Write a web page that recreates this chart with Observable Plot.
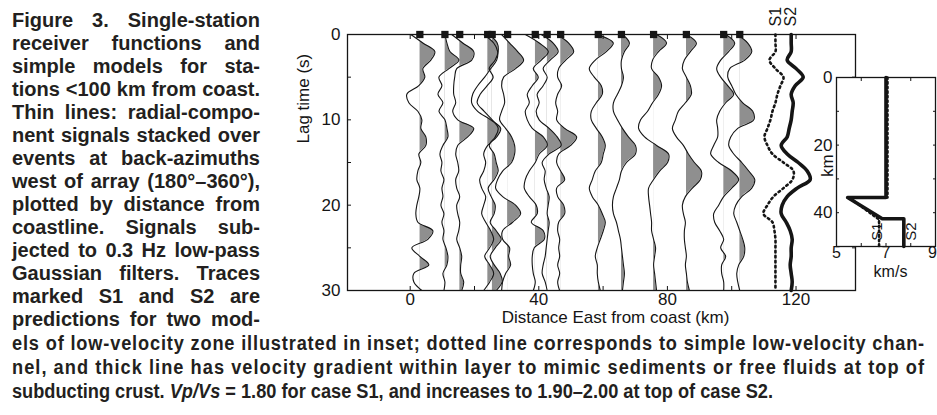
<!DOCTYPE html>
<html><head><meta charset="utf-8">
<script src="https://cdn.jsdelivr.net/npm/d3@7"></script>
<script src="https://cdn.jsdelivr.net/npm/@observablehq/plot@0.6"></script>
<style>
body{margin:0;background:#fff;}
#page{position:relative;width:937px;height:415px;overflow:hidden;font-family:"Liberation Sans",Arial,Helvetica,sans-serif;}
.cap{position:absolute;white-space:nowrap;font-weight:bold;color:#231f20;line-height:24px;}
.cap span{display:inline-block;transform-origin:0 50%;}
#main{position:absolute;left:290px;top:0;}
#inset{position:absolute;left:790px;top:60px;}
</style></head>
<body><div id="page"><div id="main"></div><div id="inset"></div></div>
<script>
// ---------------- caption text ----------------
const captionLeft = [
  "Figure 3. Single-station",
  "receiver functions and",
  "simple models for sta-",
  "tions <100 km from coast.",
  "Thin lines: radial-compo-",
  "nent signals stacked over",
  "events at back-azimuths",
  "west of array (180°–360°),",
  "plotted by distance from",
  "coastline. Signals sub-",
  "jected to 0.3 Hz low-pass",
  "Gaussian filters. Traces",
  "marked S1 and S2 are",
  "predictions for two mod-"
];
const captionBottom = [
  "els of low-velocity zone illustrated in inset; dotted line corresponds to simple low-velocity chan-",
  "nel, and thick line has velocity gradient within layer to mimic sediments or free fluids at top of",
  "subducting crust. <i>Vp/Vs</i> = 1.80 for case S1, and increases to 1.90–2.00 at top of case S2."
];

// ---------------- data: receiver functions ----------------
const lagTimes = [0,1,2,3,4,5,6,7,8,9,10,11,12,13,14,15,16,17,18,19,20,21,22,23,24,25,26,27,28,29,30];
const stationKm = [3.0, 10.8, 15.4, 24.1, 25.5, 30.3, 38.9, 42.6, 46.8, 58.5, 65.7, 75.7, 85.9, 97.5, 102.5];
const rf01 = [-9,3,15,11,3,5,-1,-13,-11,-2,2,1,6,6,-1,1,-2,-3,0,-1,-3,-4,-2,13,8,-8,0,9,-6,-6,2];
const rf02 = [0,2,5,14,4,-6,-3,-7,-2,-6,0,2,3,-2,-5,-3,-4,-1,-3,-2,-4,-1,-3,-1,-2,1,3,2,-2,0,-1];
const rf03 = [-8,3,14,12,-3,-5,-6,-6,-4,-7,-2,14,8,-2,-4,-2,-1,-4,-3,0,-3,-2,0,-1,-3,0,2,1,1,4,2];
const rf04 = [-4,6,10,9,3,-3,-10,-15,-16,-10,3,13,9,0,-4,-2,-4,-8,-6,-2,-4,-6,-2,3,6,2,-3,2,6,2,-4];
const rf05 = [-3,5,6,3,-3,1,-5,-12,-15,-8,0,6,3,-3,2,4,6,2,-4,-1,3,2,-2,4,9,3,-2,2,8,10,4];
const rf06 = [-6,2,10,16,8,-4,-6,-4,-3,-6,-8,-2,4,7,7,4,-5,-10,-12,-5,8,13,5,-5,-5,2,1,3,-2,-5,-6];
const rf07 = [-10,4,13,6,-2,3,-3,-8,-6,-10,-8,-3,8,12,4,0,-6,-10,-11,-6,1,2,-4,8,9,-1,-3,-3,-2,0,-2];
const rf08 = [-6,6,11,3,-4,0,-4,-10,-8,-11,-8,2,10,14,2,-5,-2,-3,-1,2,1,0,2,1,0,-1,-2,-4,-5,-2,0];
const rf09 = [-4,8,13,5,-2,-3,1,-3,-5,-3,-4,4,16,10,-2,-4,0,4,-4,-3,3,4,-2,-3,-1,-2,-1,-3,-1,-3,-1];
const rf10 = [-1,15,8,-3,-9,-4,3,4,-2,-7,-7,-2,4,7,5,3,-3,-6,-9,-6,0,4,7,5,2,-1,-3,-1,-1,0,2];
const rf11 = [1,8,3,0,0,2,0,-4,-8,-8,-4,1,7,14,14,5,0,-2,-5,-8,-9,-8,-5,-3,-1,0,1,2,3,2,1];
const rf12 = [3,13,5,-1,-2,5,8,5,-1,-6,-13,-15,-9,3,15,14,6,0,-5,-5,-4,-3,-2,-2,0,2,1,0,1,2,3];
const rf13 = [0,10,4,-2,-4,0,4,5,-1,-8,-11,-14,-10,-3,2,8,15,14,6,-1,-4,-3,-1,-2,-2,-1,0,-1,0,1,3];
const rf14 = [2,11,5,-3,-7,-3,4,10,2,-4,-7,-6,-6,-10,-13,-5,8,15,8,0,-5,-10,-9,-4,0,-3,2,-2,-2,0,0];
const rf15 = [-3,8,12,5,-10,-12,-8,-4,3,13,14,-2,-9,-11,-6,2,9,15,12,2,-4,-6,-3,0,3,5,4,-1,-3,-2,0];
const receiverFunctions = [rf01,rf02,rf03,rf04,rf05,rf06,rf07,rf08,rf09,rf10,rf11,rf12,rf13,rf14,rf15];

// synthetic predictions
const synthLabels = ["S1", "S2"];
const synthKm = [113.6, 118.5];
const synthS1 = [0,0,0,-6,0,8,5,2,0,-3,-5,-8,-11,-8,-3,8,18,17,8,-2,-8,-12,-3,-1,0,0,0,0,0,0,0];
const synthS2 = [0,0,0,-4,5,12,4,0,2,1,0,-2,-4,-10,-4,7,16,19,6,-4,-9,-10,-5,-1,1,0,0,-1,0,1,0];

// inset velocity models
const modelS1Vel = [7.06, 7.06, 5.5, 6.72, 6.72];
const modelS1Depth = [0, 35.5, 35.5, 42, 50];
const modelS2Vel = [7.0, 7.0, 5.45, 6.85, 7.72, 7.72];
const modelS2Depth = [0, 35.5, 35.5, 41.8, 41.8, 50];
const insetLabelVel = [6.66, 8.03];
const insetLabelDepth = [45.6, 45.6];

// tick labels
const xTickLabels = [0, 40, 80, 120];
const yTickLabels = [0, 10, 20, 30];
const insetVelTicks = [5, 7];
const insetVelTickLast = [9];
const insetDepthTicks = [0, 20, 40];

const traceGain = 0.311; // km of horizontal offset per amplitude unit

// ---------------- caption layout ----------------
const page = document.getElementById("page");
function addLine(html, left, centerY, size) {
  const d = document.createElement("div");
  d.className = "cap";
  d.style.left = left + "px";
  d.style.top = (centerY - 12) + "px";
  d.style.fontSize = size + "px";
  const s = document.createElement("span");
  s.innerHTML = html.replace(/</g, (m, i) => html.slice(i, i + 2) === "<i" || html.slice(i, i + 3) === "</i" ? "<" : "&lt;");
  d.appendChild(s);
  page.appendChild(d);
  return s;
}
function spaces(span) { return (span.textContent.match(/ /g) || []).length; }
captionLeft.forEach((t, k) => {
  const s = addLine(t, 12, 20 + 23 * k, 20);
  const w = s.getBoundingClientRect().width, n = spaces(s);
  if (w < 248 && n) s.style.wordSpacing = ((248 - w) / n) + "px";
  else if (w > 248) s.style.transform = `scaleX(${248 / w})`;
});
const bottomSpans = captionBottom.map((t, k) => addLine(t, 12, 343 + 24 * k, 20));
const condense = 761 / bottomSpans[2].getBoundingClientRect().width;
bottomSpans.forEach((s, k) => {
  const w = s.getBoundingClientRect().width;
  if (k < 2) s.style.letterSpacing = ((913 / condense - w) / s.textContent.length) + "px";
  s.style.transform = `scaleX(${condense})`;
});

// ---------------- main chart ----------------
const rows = receiverFunctions.flatMap((amps, i) => amps.map((a, j) => ({
  id: i, t: lagTimes[j], base: stationKm[i], x: stationKm[i] + a * traceGain
})));
const s1Rows = synthS1.map((a, j) => ({t: lagTimes[j], x: synthKm[0] + a * traceGain}));
const s2Rows = synthS2.map((a, j) => ({t: lagTimes[j], x: synthKm[1] + a * traceGain}));
const font = '"Liberation Sans", Arial, Helvetica, sans-serif';
const ink = "#151515";
const fmt = d => String(d);

const chart = Plot.plot({
  width: 647, height: 330,
  marginLeft: 57, marginRight: 82, marginTop: 34, marginBottom: 40,
  x: {domain: [-19.5, 138.5]},
  y: {domain: [0, 30], reverse: true},
  style: {fontFamily: font, fontSize: "17px", color: ink, background: "transparent", overflow: "visible"},
  marks: [
    Plot.areaX(rows, {y: "t", x1: "base", x2: "x", z: "id", fill: "#8f8f8f", curve: "catmull-rom"}),
    Plot.line(rows, {x: "x", y: "t", z: "id", stroke: ink, strokeWidth: 1.1, curve: "catmull-rom"}),
    Plot.line(s1Rows, {x: "x", y: "t", stroke: ink, strokeWidth: 2.6, strokeDasharray: "1.6,3.4", curve: "catmull-rom"}),
    Plot.line(s2Rows, {x: "x", y: "t", stroke: ink, strokeWidth: 3.6, curve: "catmull-rom"}),
    Plot.frame({stroke: ink, strokeWidth: 1.3}),
    Plot.dot(stationKm, {x: d => d, y: () => 0, symbol: "square", r: 4.1, fill: ink, stroke: null}),
    Plot.axisY({ticks: yTickLabels, tickSize: 0, tickPadding: 7, tickFormat: fmt, label: null, fontSize: 17}),
    Plot.axisY({ticks: [0,5,10,15,20,25,30], tickSize: -4, tickFormat: () => "", label: null}),
    Plot.axisY({anchor: "right", ticks: [0,5,10,15,20,25,30], tickSize: -4, tickFormat: () => "", label: null}),
    Plot.axisX({ticks: xTickLabels, tickSize: 0, tickPadding: 2, tickFormat: fmt, label: null, fontSize: 17}),
    Plot.axisX({ticks: [0,20,40,60,80,100,120], tickSize: -4, tickFormat: () => "", label: null}),
    Plot.axisX({anchor: "top", ticks: [0,20,40,60,80,100,120], tickSize: -4, tickFormat: () => "", label: null}),
    Plot.text(["Distance East from coast (km)"], {frameAnchor: "bottom", dx: 14, dy: 32, fontSize: 17}),
    Plot.text(["Lag time (s)"], {frameAnchor: "left", dx: -44, dy: -19, rotate: -90, fontSize: 17}),
    Plot.text(synthLabels, {x: (d, i) => synthKm[i], y: () => 0, text: d => d, rotate: -90, textAnchor: "start", dy: -8, fontSize: 16})
  ]
});
// clip each filled area to the positive side of its baseline
{
  const ns = "http://www.w3.org/2000/svg";
  const xs = chart.scale("x");
  const defs = document.createElementNS(ns, "defs");
  chart.insertBefore(defs, chart.firstChild);
  chart.querySelectorAll('g[aria-label="area"] path').forEach((p, i) => {
    const cp = document.createElementNS(ns, "clipPath");
    cp.setAttribute("id", "rfclip" + i);
    const r = document.createElementNS(ns, "rect");
    r.setAttribute("x", xs.apply(stationKm[i]));
    r.setAttribute("y", 0); r.setAttribute("width", 1000); r.setAttribute("height", 1000);
    cp.appendChild(r); defs.appendChild(cp);
    p.setAttribute("clip-path", `url(#rfclip${i})`);
  });
}
document.getElementById("main").appendChild(chart);

// ---------------- inset ----------------
const m1 = modelS1Vel.map((v, i) => ({v, z: modelS1Depth[i]}));
const m2 = modelS2Vel.map((v, i) => ({v, z: modelS2Depth[i]}));
const inset = Plot.plot({
  width: 147, height: 220,
  marginLeft: 46, marginRight: 2, marginTop: 17, marginBottom: 34,
  x: {domain: [5, 9]},
  y: {domain: [0, 50], reverse: true},
  style: {fontFamily: font, fontSize: "17px", color: ink, background: "transparent", overflow: "visible"},
  marks: [
    Plot.frame({fill: "white", stroke: null}),
    Plot.line(m2, {x: "v", y: "z", stroke: ink, strokeWidth: 3.6}),
    Plot.line(m1, {x: "v", y: "z", stroke: ink, strokeWidth: 2.6, strokeDasharray: "1.6,3"}),
    Plot.frame({stroke: ink, strokeWidth: 1.3}),
    Plot.axisY({ticks: insetDepthTicks, tickSize: 0, tickPadding: 4, tickFormat: fmt, label: null, fontSize: 17}),
    Plot.axisY({ticks: [0,10,20,30,40,50], tickSize: -3, tickFormat: () => "", label: null}),
    Plot.axisY({anchor: "right", ticks: [0,10,20,30,40,50], tickSize: -3, tickFormat: () => "", label: null}),
    Plot.axisX({ticks: insetVelTicks, tickSize: 0, tickPadding: 0, tickFormat: fmt, label: null, fontSize: 16}),
    Plot.axisX({ticks: insetVelTickLast, tickSize: 0, tickPadding: 0, tickFormat: fmt, label: null, fontSize: 16, dx: -3}),
    Plot.axisX({ticks: [5,6,7,8,9], tickSize: -3, tickFormat: () => "", label: null}),
    Plot.axisX({anchor: "top", ticks: [5,6,7,8,9], tickSize: -3, tickFormat: () => "", label: null}),
    Plot.text(["km"], {frameAnchor: "left", dx: -9, dy: 15, rotate: -90, fontSize: 17}),
    Plot.text(["km/s"], {frameAnchor: "bottom", dx: 4.5, dy: 30, fontSize: 16}),
    Plot.text(synthLabels, {x: insetLabelVel, y: insetLabelDepth, text: d => d, rotate: -90, fontSize: 15})
  ]
});
document.getElementById("inset").appendChild(inset);
</script>
</body></html>
